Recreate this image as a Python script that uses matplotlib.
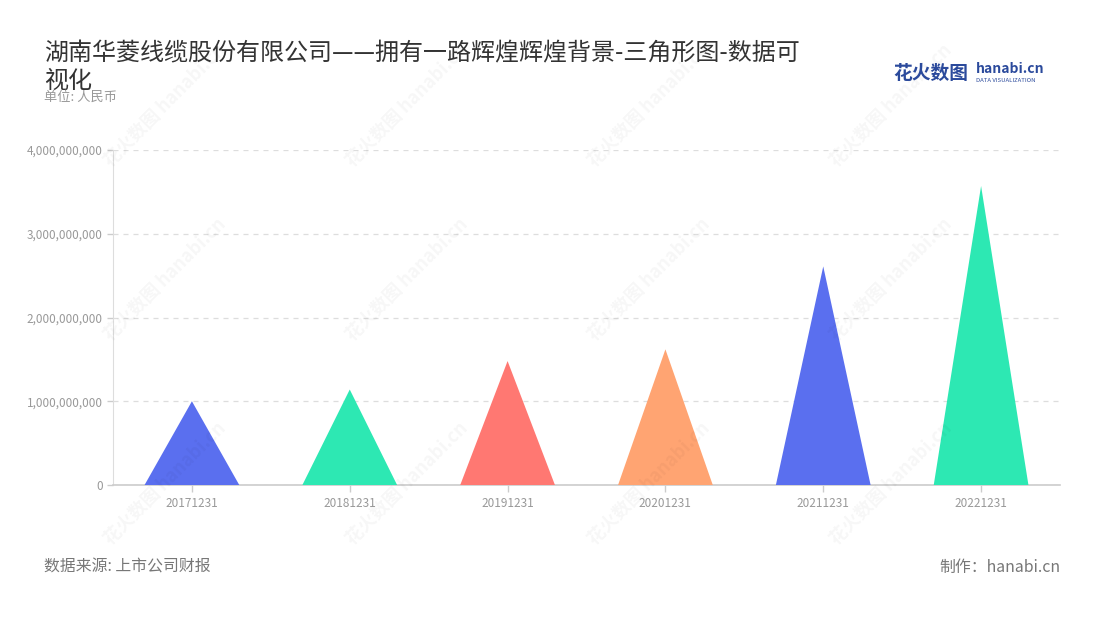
import matplotlib
matplotlib.use('Agg')
import matplotlib.pyplot as plt
from matplotlib.patches import Polygon
import matplotlib.ticker as mticker

plt.rcParams['font.family'] = ['Noto Sans CJK SC', 'DejaVu Sans']

# data
dates = ['20171231', '20181231', '20191231', '20201231', '20211231', '20221231']
values = [1.00e9, 1.14e9, 1.48e9, 1.62e9, 2.61e9, 3.57e9]
colors = ['#5a6fef', '#2de8b3', '#ff7872', '#ffa472', '#5a6fef', '#2de8b3']
yticks = [0, 1e9, 2e9, 3e9, 4e9]

title = '湖南华菱线缆股份有限公司——拥有一路辉煌辉煌背景-三角形图-数据可\n视化'

fig = plt.figure(figsize=(11, 6.2), dpi=100)
ax = fig.add_axes([113/1100, 1-485/620, 947/1100, 335/620])

half = 0.3
for i, (v, c) in enumerate(zip(values, colors)):
    tri = Polygon([(i - half, 0), (i, v), (i + half, 0)], closed=True,
                  facecolor=c, edgecolor='none', zorder=3)
    ax.add_patch(tri)

ax.set_xlim(-0.5, len(dates) - 0.5)
ax.set_ylim(0, 4e9)
ax.set_xticks(range(len(dates)))
ax.set_xticklabels(dates)
ax.set_yticks(yticks)
ax.yaxis.set_major_formatter(mticker.FuncFormatter(lambda v, p: '{:,.0f}'.format(v)))
ax.tick_params(axis='x', colors='#cccccc', labelcolor='#999999', labelsize=8.5, length=5, width=1)
ax.tick_params(axis='y', colors='#cccccc', labelcolor='#999999', labelsize=8.5, length=4, width=1)
for s in ['top', 'right']:
    ax.spines[s].set_visible(False)
ax.spines['bottom'].set_color('#cccccc')
ax.spines['bottom'].set_linewidth(1.2)
ax.spines['left'].set_color('#dddddd')
ax.grid(axis='y', color='#dddddd', linestyle=(0, (4, 4)), linewidth=0.9, zorder=0)
ax.set_axisbelow(True)

# faint watermarks
for wx in [0.15, 0.37, 0.59, 0.81]:
    for wy in [0.83, 0.55, 0.22]:
        fig.text(wx, wy, '花火数图 hanabi.cn', rotation=45, fontsize=13,
                 color='#000000', alpha=0.035, ha='center', va='center', fontweight='bold')

fig.text(44/1100, 1-40/620, title, fontsize=17.3, color='#333333', va='top', linespacing=1.1)
fig.text(44/1100, 1-97/620, '单位: 人民币', fontsize=9.5, color='#999999', va='center')

fig.text(893/1100, 1-73/620, '花火数图', fontsize=13.5, color='#2b4a9c', fontweight='bold', va='center')
fig.text(976/1100, 1-69/620, 'hanabi.cn', fontsize=10, color='#2b4a9c', fontweight='bold', va='center')
fig.text(976/1100, 1-80/620, 'DATA VISUALIZATION', fontsize=4.3, color='#2b4a9c', va='center')

fig.text(44/1100, 1-567/620, '数据来源: 上市公司财报', fontsize=11.4, color='#777777', va='center')
fig.text(1060/1100, 1-567/620, '制作：hanabi.cn', fontsize=11.4, color='#777777', va='center', ha='right')

plt.savefig('out.png')
